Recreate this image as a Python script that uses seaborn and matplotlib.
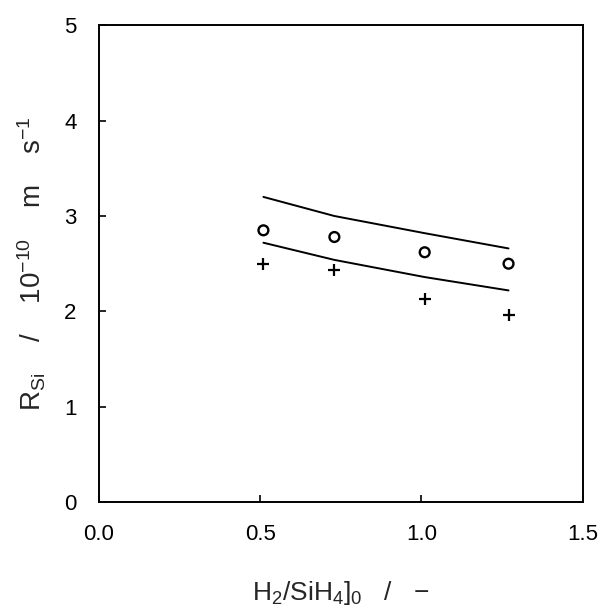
import numpy as np
import pandas as pd
import matplotlib
matplotlib.use("Agg")
import matplotlib.pyplot as plt
import seaborn as sns

# data
ratio = [0.51, 0.73, 1.01, 1.27]
rate_circles = [2.85, 2.78, 2.62, 2.50]
rate_plus = [2.50, 2.43, 2.13, 1.96]
upper_line = [3.20, 3.00, 2.82, 2.66]
lower_line = [2.72, 2.54, 2.36, 2.22]
x_ticks = [0.0, 0.5, 1.0, 1.5]
x_ticklabels = ["0.0", "0.5", "1.0", "1.5"]
y_ticks = [0, 1, 2, 3, 4, 5]

sns.set_theme(style="ticks")
plt.rcParams["font.family"] = ["Liberation Sans", "DejaVu Sans"]
plt.rcParams["mathtext.fontset"] = "custom"
plt.rcParams["mathtext.rm"] = "Liberation Sans"
plt.rcParams["mathtext.it"] = "Liberation Sans"

df = pd.DataFrame({
    "ratio": ratio,
    "circ": rate_circles,
    "plus": rate_plus,
    "up": upper_line,
    "low": lower_line,
})

fig = plt.figure(figsize=(6.07, 6.14), dpi=100)
ax = fig.add_axes([0.163, 0.182, 0.797, 0.777])

sns.lineplot(data=df, x="ratio", y="up", color="black", linewidth=1.4, ax=ax)
sns.lineplot(data=df, x="ratio", y="low", color="black", linewidth=1.4, ax=ax)
sns.scatterplot(data=df, x="ratio", y="circ", marker="o", s=50,
                facecolor="none", edgecolor="black", linewidth=1.7, ax=ax)
sns.scatterplot(data=df, x="ratio", y="plus", marker="+", s=75,
                color="black", linewidth=1.6, ax=ax)

ax.set_xlim(0, 1.5)
ax.set_ylim(0, 5)
ax.set_xticks(x_ticks)
ax.set_xticklabels(x_ticklabels)
ax.set_yticks(y_ticks)

for s in ax.spines.values():
    s.set_linewidth(1.4)
    s.set_color("black")
ax.tick_params(direction="in", length=5, width=1.2, pad=16,
               labelsize=16, colors="black")

ax.set_xlabel(r"H$_2$/SiH$_4$]$_0$   /   $-$", fontsize=19, labelpad=24)
ax.set_ylabel(r"R$_{\rm Si}$    /    10$^{-10}$    m    s$^{-1}$", fontsize=20, labelpad=12)

fig.savefig("out.png", dpi=100)
